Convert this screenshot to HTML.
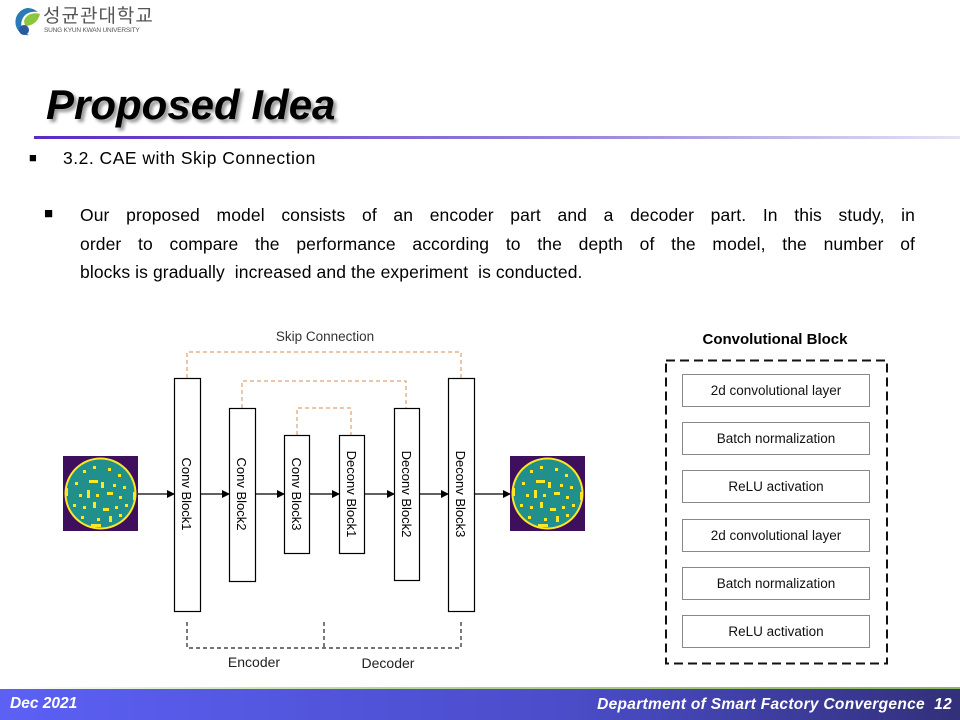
<!DOCTYPE html>
<html><head><meta charset="utf-8"><style>
body{margin:0;width:960px;height:720px;position:relative;background:#fff;overflow:hidden;font-family:"Liberation Sans",sans-serif;}
.abs{position:absolute;}
.ln{text-align:justify;text-align-last:justify;white-space:nowrap;}
</style></head><body>
<svg class="abs" style="left:12px;top:6px" width="30" height="32" viewBox="0 0 30 32">
<path d="M15 2 C6 4 2 12 4 20 C6 27 12 30 17 29 C10 26 8 20 10 14 C12 8 18 5 26 6 C22 3 19 2 15 2Z" fill="#2a7ab8"/>
<path d="M12 15 C14 8 22 6 28 8 C26 16 20 20 13 20Z" fill="#8cc63f"/>
<circle cx="12" cy="24" r="5" fill="#2a5a9a"/>
</svg>
<div class="abs" style="left:43px;top:6px;font-family:'Liberation Sans','Noto Sans CJK KR',sans-serif;font-size:19px;color:#555;letter-spacing:1px;line-height:22px">성균관대학교</div>
<div class="abs" style="left:44px;top:27px;font-size:6.5px;color:#555;letter-spacing:-0.2px">SUNG KYUN KWAN UNIVERSITY</div>
<div class="abs" style="left:46px;top:81px;font-size:42px;font-weight:bold;font-style:italic;color:#000;text-shadow:3px 3px 3px #999;letter-spacing:0px">Proposed Idea</div>
<div class="abs" style="left:34px;top:136px;width:926px;height:3px;background:linear-gradient(to right,#5a2ac8,#9a86dc 60%,#e6e2f4)"></div>
<div class="abs" style="left:29px;top:150px;font-size:13px">■</div>
<div class="abs" style="left:63px;top:148px;font-size:17.5px;letter-spacing:0.5px">3.2. CAE with Skip Connection</div>
<div class="abs" style="left:44px;top:205px;font-size:15px">■</div>
<div class="abs" style="left:80px;top:201px;width:835px;font-size:17.5px;line-height:28.5px;letter-spacing:0.1px">
<div class="ln">Our proposed model consists of an encoder part and a decoder part. In this study, in</div>
<div class="ln">order to compare the performance according to the depth of the model, the number of</div>
<div style="white-space:nowrap">blocks is gradually&nbsp; increased and the experiment&nbsp; is conducted.</div>
</div>
<svg class="abs" style="left:0;top:0" width="960" height="720">
<defs>
<marker id="ar" markerWidth="8" markerHeight="8" refX="7" refY="4" orient="auto" markerUnits="userSpaceOnUse"><path d="M0,0 L8,4 L0,8Z" fill="#000"/></marker>
<g id="wafer">
<rect x="0" y="0" width="75" height="75" fill="#3d0f5c"/>
<circle cx="37.5" cy="37.5" r="36" fill="#fde725"/>
<circle cx="37.5" cy="37.5" r="34" fill="#21908d"/>
<g fill="#fde725">
<rect x="20" y="14" width="3" height="3"/><rect x="30" y="10" width="3" height="3"/><rect x="45" y="12" width="3" height="3"/><rect x="55" y="18" width="3" height="3"/>
<rect x="12" y="26" width="3" height="3"/><rect x="26" y="24" width="9" height="3"/><rect x="38" y="26" width="3" height="6"/><rect x="50" y="28" width="3" height="3"/><rect x="60" y="30" width="3" height="3"/>
<rect x="16" y="38" width="3" height="3"/><rect x="24" y="34" width="3" height="8"/><rect x="33" y="38" width="3" height="3"/><rect x="44" y="36" width="6" height="3"/><rect x="56" y="40" width="3" height="3"/>
<rect x="10" y="48" width="3" height="3"/><rect x="20" y="50" width="3" height="3"/><rect x="30" y="46" width="3" height="6"/><rect x="40" y="52" width="6" height="3"/><rect x="52" y="50" width="3" height="3"/><rect x="62" y="48" width="3" height="3"/>
<rect x="18" y="60" width="3" height="3"/><rect x="34" y="62" width="3" height="3"/><rect x="46" y="60" width="3" height="6"/><rect x="56" y="58" width="3" height="3"/><rect x="28" y="68" width="10" height="3"/>
<rect x="3" y="32" width="2" height="8"/><rect x="70" y="36" width="2" height="8"/>
</g>
</g>
</defs>
<use href="#wafer" x="63" y="456"/>
<use href="#wafer" x="510" y="456"/>
<g stroke="#e0a070" stroke-width="1.2" stroke-dasharray="4,3" fill="none">
<path d="M187 378 V352 H461 V378"/>
<path d="M242 408 V381 H406 V408"/>
<path d="M297 435 V408 H351 V435"/>
</g>
<text x="325" y="341" font-size="13.5" text-anchor="middle" fill="#333" font-family="Liberation Sans">Skip Connection</text>
<g fill="#fff" stroke="#000" stroke-width="1.2">
<rect x="174.5" y="378.5" width="26" height="233"/>
<rect x="229.5" y="408.5" width="26" height="173"/>
<rect x="284.5" y="435.5" width="25" height="118"/>
<rect x="339.5" y="435.5" width="25" height="118"/>
<rect x="394.5" y="408.5" width="25" height="172"/>
<rect x="448.5" y="378.5" width="26" height="233"/>
</g>
<g font-size="13" fill="#000" font-family="Liberation Sans">
<text transform="translate(182,494) rotate(90)" text-anchor="middle">Conv Block1</text>
<text transform="translate(237,494) rotate(90)" text-anchor="middle">Conv Block2</text>
<text transform="translate(292,494) rotate(90)" text-anchor="middle">Conv Block3</text>
<text transform="translate(347,494) rotate(90)" text-anchor="middle">Deconv Block1</text>
<text transform="translate(402,494) rotate(90)" text-anchor="middle">Deconv Block2</text>
<text transform="translate(456,494) rotate(90)" text-anchor="middle">Deconv Block3</text>
</g>
<g stroke="#000" stroke-width="1.2" marker-end="url(#ar)">
<line x1="138" y1="494" x2="174" y2="494"/>
<line x1="200" y1="494" x2="229" y2="494"/>
<line x1="255" y1="494" x2="284" y2="494"/>
<line x1="309" y1="494" x2="339" y2="494"/>
<line x1="364" y1="494" x2="394" y2="494"/>
<line x1="419" y1="494" x2="448" y2="494"/>
<line x1="474" y1="494" x2="510" y2="494"/>
</g>
<g stroke="#222" stroke-width="1.2" stroke-dasharray="4,3" fill="none">
<path d="M187 622 V648 H461 V622"/>
<path d="M324 622 V648"/>
</g>
<text x="254" y="667" font-size="14" text-anchor="middle" fill="#222" font-family="Liberation Sans">Encoder</text>
<text x="388" y="668" font-size="14" text-anchor="middle" fill="#222" font-family="Liberation Sans">Decoder</text>
<text x="775" y="344" font-size="15" font-weight="bold" text-anchor="middle" font-family="Liberation Sans">Convolutional Block</text>
<rect x="666" y="360.5" width="221" height="303" fill="none" stroke="#111" stroke-width="2" stroke-dasharray="9,5"/>
<g fill="#fff" stroke="#888" stroke-width="1">
<rect x="682.5" y="374.5" width="187" height="32"/>
<rect x="682.5" y="422.5" width="187" height="32"/>
<rect x="682.5" y="470.5" width="187" height="32"/>
<rect x="682.5" y="519.5" width="187" height="32"/>
<rect x="682.5" y="567.5" width="187" height="32"/>
<rect x="682.5" y="615.5" width="187" height="32"/>
</g>
<g font-size="13.5" text-anchor="middle" fill="#111" font-family="Liberation Sans">
<text x="776" y="395">2d convolutional layer</text>
<text x="776" y="443">Batch normalization</text>
<text x="776" y="491">ReLU activation</text>
<text x="776" y="540">2d convolutional layer</text>
<text x="776" y="588">Batch normalization</text>
<text x="776" y="636">ReLU activation</text>
</g>
</svg>
<div class="abs" style="left:0;top:687px;width:960px;height:2px;background:linear-gradient(to right,#fff,#b8d890 40%,#8ab860)"></div>
<div class="abs" style="left:0;top:689px;width:960px;height:31px;background:linear-gradient(to right,#5c60f4,#4a4cc8 60%,#32307a)"></div>
<div class="abs" style="left:10px;top:695px;font-size:15.5px;font-weight:bold;font-style:italic;color:#fff">Dec 2021</div>
<div class="abs" style="right:8px;top:696px;font-size:15.5px;font-weight:bold;font-style:italic;color:#fff;letter-spacing:0.3px">Department of Smart Factory Convergence&nbsp; 12</div>
</body></html>
